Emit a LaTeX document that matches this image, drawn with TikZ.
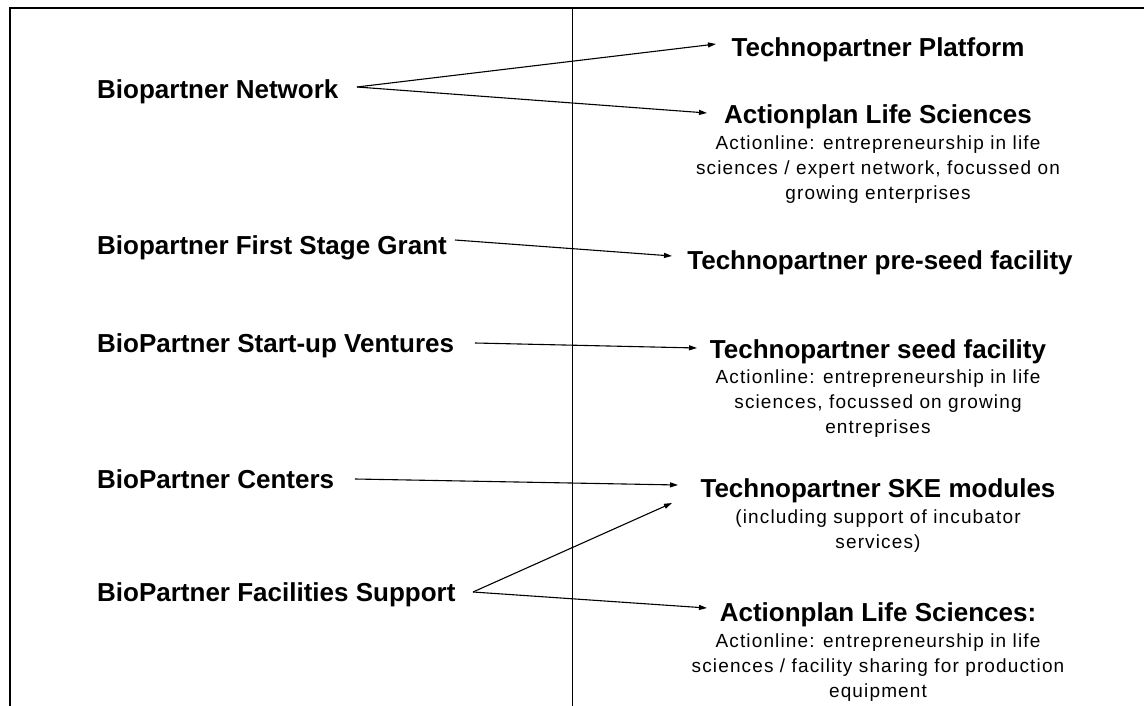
\documentclass[tikz,border=0pt]{standalone}
\usepackage{fontspec}
\setmainfont{Liberation Sans}
\newfontfamily\subfont[LetterSpace=6]{Liberation Sans}
\usetikzlibrary{arrows.meta}
\begin{document}
\begin{tikzpicture}[x=1pt,y=-1pt,
 lbl/.style={anchor=base west, inner sep=0pt, font=\fontsize{26}{30}\selectfont\bfseries},
 ttl/.style={anchor=base, inner sep=0pt, font=\fontsize{26}{30}\selectfont\bfseries},
 sub/.style={anchor=north, inner sep=0pt, align=center, font=\subfont\fontsize{19}{24.8}\selectfont},
 arr/.style={-{Triangle[length=8pt,width=5pt]}, line width=1.1pt},
 frame/.style={line width=2.2pt},
 divider/.style={line width=1pt}]
\useasboundingbox (0,0) rectangle (1144,706);
\fill[white] (0,0) rectangle (1144,706);
% frame and divider
\coordinate (tl) at (10,8); \coordinate (tr) at (1144,8); \coordinate (bl) at (10,706);
\draw[frame] (bl) -- (tl) -- (tr);
\coordinate (dt) at (572,8); \coordinate (db) at (572,706);
\draw[divider] (dt) -- (db);
% left labels
\node[lbl] (net) at (97,99) {Biopartner Network};
\node[lbl] (grant) at (97,254) {Biopartner First Stage Grant};
\node[lbl] (startup) at (97,352) {BioPartner Start-up Ventures};
\node[lbl] (centers) at (97,488) {BioPartner Centers};
\node[lbl] (facil) at (97,601) {BioPartner Facilities Support};
% right side
\node[ttl] (platform) at (878,57) {Technopartner Platform};
\node[ttl] (alsA) at (878,124) {Actionplan Life Sciences};
\node[sub] (alsAsub) at (878,136) {Actionline: entrepreneurship in life\\sciences / expert network, focussed on\\growing enterprises};
\node[ttl] (preseed) at (880,269) {Technopartner pre-seed facility};
\node[ttl] (seed) at (878,358) {Technopartner seed facility};
\node[sub] (seedsub) at (878,370) {Actionline: entrepreneurship in life\\sciences, focussed on growing\\entreprises};
\node[ttl] (ske) at (878,497) {Technopartner SKE modules};
\node[sub] (skesub) at (878,510) {(including support of incubator\\services)};
\node[ttl] (alsB) at (878,621) {Actionplan Life Sciences:};
\node[sub] (alsBsub) at (878,634) {Actionline: entrepreneurship in life\\sciences / facility sharing for production\\equipment};
% connector ends
\coordinate (netOut) at (357,87);
\coordinate (platIn) at (716,44);
\coordinate (alsAIn) at (707,113);
\coordinate (grantOut) at (455,240);
\coordinate (preIn) at (672,256);
\coordinate (startOut) at (475,343);
\coordinate (seedIn) at (697,348);
\coordinate (centOut) at (355,479);
\coordinate (skeIn1) at (678,485);
\coordinate (facOut) at (473,592);
\coordinate (skeIn2) at (672,503);
\coordinate (alsBIn) at (707,608);
\draw[arr] (netOut) -- (platIn);
\draw[arr] (netOut) -- (alsAIn);
\draw[arr] (grantOut) -- (preIn);
\draw[arr] (startOut) -- (seedIn);
\draw[arr] (centOut) -- (skeIn1);
\draw[arr] (facOut) -- (skeIn2);
\draw[arr] (facOut) -- (alsBIn);
\end{tikzpicture}
\end{document}
